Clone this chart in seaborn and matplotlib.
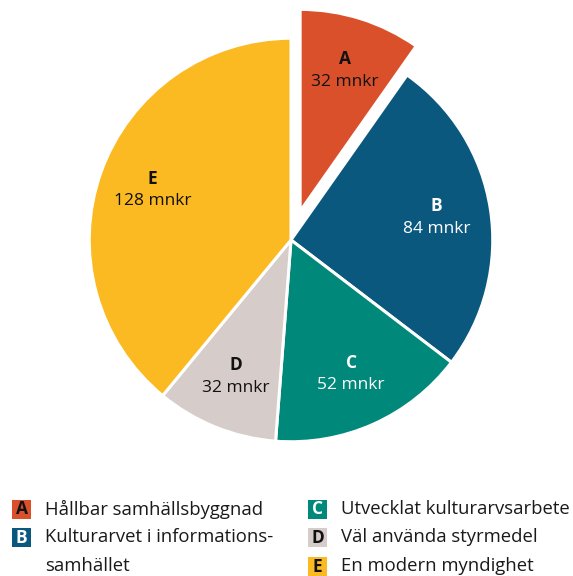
import numpy as np
import matplotlib
matplotlib.use("Agg")
import matplotlib.pyplot as plt
from matplotlib.patches import Rectangle
import seaborn as sns

# data
keys = ["A", "B", "C", "D", "E"]
values = [32, 84, 52, 32, 128]
value_labels = ["32 mnkr", "84 mnkr", "52 mnkr", "32 mnkr", "128 mnkr"]
names = ["Hållbar samhällsbyggnad", "Kulturarvet i informations-\nsamhället",
         "Utvecklat kulturarvsarbete", "Väl använda styrmedel", "En modern myndighet"]
colors = ["#D9502B", "#0B587F", "#00887A", "#D6CCCA", "#FBBA22"]
text_colors = ["#111111", "white", "white", "#111111", "#111111"]
explode = [0.15, 0, 0, 0, 0]

sns.set_theme(style="white")
plt.rcParams["font.family"] = ["Open Sans", "DejaVu Sans"]

W, H = 573, 576
fig = plt.figure(figsize=(W / 100, H / 100), dpi=100)
fig.patch.set_facecolor("white")

# pie axes: centre at (291, 240) px, radius ~201 px
cx, cy, half = 291, 240, 230
ax = fig.add_axes([(cx - half) / W, (H - cy - half) / H, 2 * half / W, 2 * half / H])
wedges, _ = ax.pie(values, startangle=90, counterclock=False, explode=explode,
                   colors=colors, wedgeprops=dict(edgecolor="white", linewidth=2.2))
ax.set_xlim(-1.14, 1.14)
ax.set_ylim(-1.14, 1.14)
ax.set_aspect("equal")
ax.axis("off")

for w, k, v, tc in zip(wedges, keys, value_labels, text_colors):
    ang = np.deg2rad((w.theta1 + w.theta2) / 2)
    x0, y0 = w.center
    x = x0 + 0.73 * np.cos(ang)
    y = y0 + 0.73 * np.sin(ang)
    ax.text(x, y + 0.058, k, ha="center", va="center", fontsize=12.5,
            fontweight="bold", color=tc)
    ax.text(x, y - 0.055, v, ha="center", va="center", fontsize=12.5, color=tc)

# legend drawn in pixel coordinates
lax = fig.add_axes([0, 0, 1, 1])
lax.set_xlim(0, W)
lax.set_ylim(H, 0)
lax.axis("off")
col_x = [12, 12, 308, 308, 308]
row = [0, 1, 0, 1, 2]
y_first, step, box = 509, 28.5, 19
for k, name, c, tc, x, r in zip(keys, names, colors, text_colors, col_x, row):
    yc = y_first + r * step
    lax.add_patch(Rectangle((x, yc - box / 2), box, box, color=c, lw=0))
    lax.text(x + box / 2, yc + 0.5, k, ha="center", va="center", fontsize=12.5,
             fontweight="bold", color=tc)
    for i, line in enumerate(name.split("\n")):
        lax.text(x + 33, yc + i * step, line, ha="left", va="center",
                 fontsize=13.3, color="#1a1a1a")

fig.savefig("out.png", dpi=100, facecolor="white")
